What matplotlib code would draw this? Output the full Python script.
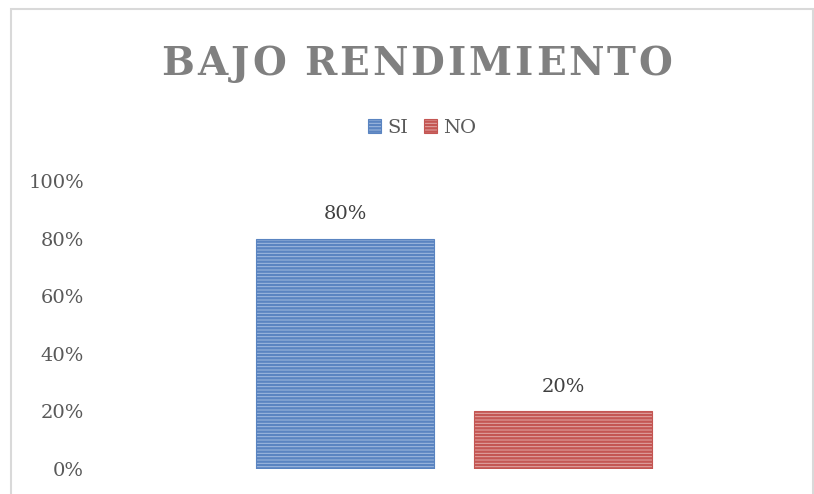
from matplotlib import pyplot as plt
from matplotlib.patches import Rectangle
import numpy as np

# data
series = ['SI', 'NO']
values = [0.80, 0.20]
face_colors = ['#a3bce0', '#e2a8a6']
stripe_colors = ['#5a84c1', '#c45653']
yticks = [0, 0.2, 0.4, 0.6, 0.8, 1.0]
ytick_labels = ['0%', '20%', '40%', '60%', '80%', '100%']
title = 'BAJO RENDIMIENTO'

W, H = 814, 494
fig = plt.figure(figsize=(W / 100, H / 100), dpi=100)
plt.rcParams['font.family'] = ['DejaVu Serif']
plt.rcParams['hatch.linewidth'] = 1.7

# chart frame (light grey, only top/left/right visible)
fig.patches.append(Rectangle((10.5 / W, -0.1), (813 - 10.5) / W, 1.1 - 9.5 / H,
                             transform=fig.transFigure, fill=False,
                             edgecolor='#d9d9d9', linewidth=1.5))

ax = fig.add_axes([95 / W, (H - 469) / H, (813 - 95) / W, (469 - 181) / H])
ax.set_xlim(-0.5, 0.5)
ax.set_ylim(0, 1)

bar_w = 178 / 718
offsets = np.array([-1, 1]) * (109 / 718)
handles = []
for x, v, fc, sc, name in zip(offsets, values, face_colors, stripe_colors, series):
    b = ax.bar(x, v, width=bar_w, color=fc, edgecolor=sc, linewidth=0.8,
               hatch='-----', label=name)
    handles.append(b)
    ax.text(x, v + 0.055, f'{v:.0%}', ha='center', va='bottom',
            fontsize=14, color='#404040')

ax.set_yticks(yticks)
ax.set_yticklabels(ytick_labels, fontsize=14, color='#595959')
ax.tick_params(axis='y', length=0, pad=8)
ax.set_xticks([])
for s in ax.spines.values():
    s.set_visible(False)

# title with letter spacing, like the original
renderer = fig.canvas.get_renderer()
tracking = 3.0
pieces = []
for ch in title:
    t = fig.text(0, 1 - 60 / H, ch, ha='left', va='baseline', fontsize=28,
                 fontweight='bold', color='#808080')
    w = t.get_window_extent(renderer).width
    if ch == ' ':
        w = 12
    pieces.append((t, w))
total = sum(w for _, w in pieces) + tracking * (len(pieces) - 1)
x = 417 - total / 2
for t, w in pieces:
    t.set_x(x / W)
    t.set_y(1 - 75 / H)
    x += w + tracking

leg = fig.legend(handles=handles, loc='center', bbox_to_anchor=(422 / W, 1 - 128 / H),
                 ncol=2, frameon=False, fontsize=14, handlelength=0.7,
                 handleheight=0.7, handletextpad=0.3, columnspacing=0.8)
for t in leg.get_texts():
    t.set_color('#595959')

fig.savefig('out.png', dpi=100)
